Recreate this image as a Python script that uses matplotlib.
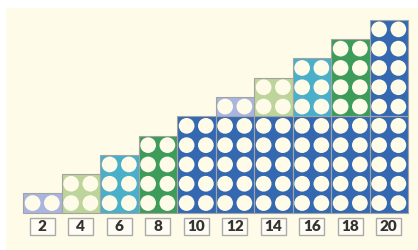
import matplotlib
matplotlib.use('Agg')
from matplotlib import pyplot as plt
from matplotlib.patches import Rectangle

# chart data
labels = ['2', '4', '6', '8', '10', '12', '14', '16', '18', '20']
base_rows = [1, 2, 3, 4, 5, 5, 5, 5, 5, 5]
top_rows = [0, 0, 0, 0, 0, 1, 2, 3, 4, 5]

row_colours = {1: '#a9b5e0', 2: '#bdd49a', 3: '#4aafc8', 4: '#3e9c5b', 5: '#3469b2'}
cream = '#fefbe8'

fig = plt.figure(figsize=(4.18, 2.5), dpi=100)
fig.patch.set_facecolor('white')
fig.add_artist(Rectangle((6 / 418, 0), 412 / 418, 242 / 250, transform=fig.transFigure,
                         facecolor=cream, edgecolor='none', zorder=0))

ax = fig.add_axes([0, 0, 1, 1])
ax.set_facecolor('none')
ax.set_xlim(-23 / 38.5, (418 - 23) / 38.5)
ax.set_ylim(-(250 - 212.7) / 19.3, 212.7 / 19.3)
ax.axis('off')


def draw_block(ax, col, y0, n):
    ax.add_patch(Rectangle((col, y0), 1, n, facecolor=row_colours[n],
                           edgecolor='#a3a3a3', linewidth=0.8, zorder=2))
    xs, ys = [], []
    for r in range(n):
        for c in range(2):
            xs.append(col + 0.25 + 0.5 * c)
            ys.append(y0 + r + 0.5)
    ax.scatter(xs, ys, s=128, color=cream, edgecolors='none', zorder=3)


for i, lab in enumerate(labels):
    draw_block(ax, i, 0, base_rows[i])
    if top_rows[i] > 0:
        draw_block(ax, i, base_rows[i], top_rows[i])

    # label box under each column
    bw, bh = 25 / 38.5, 17 / 19.3
    yc = -(226.5 - 212.7) / 19.3
    ax.add_patch(Rectangle((i + 0.5 - bw / 2, yc - bh / 2), bw, bh, facecolor='#fffdf3',
                           edgecolor='#aaaaaa', linewidth=1.0, zorder=2))
    ax.text(i + 0.5, yc, lab, ha='center', va='center', fontsize=11, fontweight='heavy',
            family='Lato', color='#333333', zorder=4)

plt.savefig('out.png', dpi=100)
plt.close()
